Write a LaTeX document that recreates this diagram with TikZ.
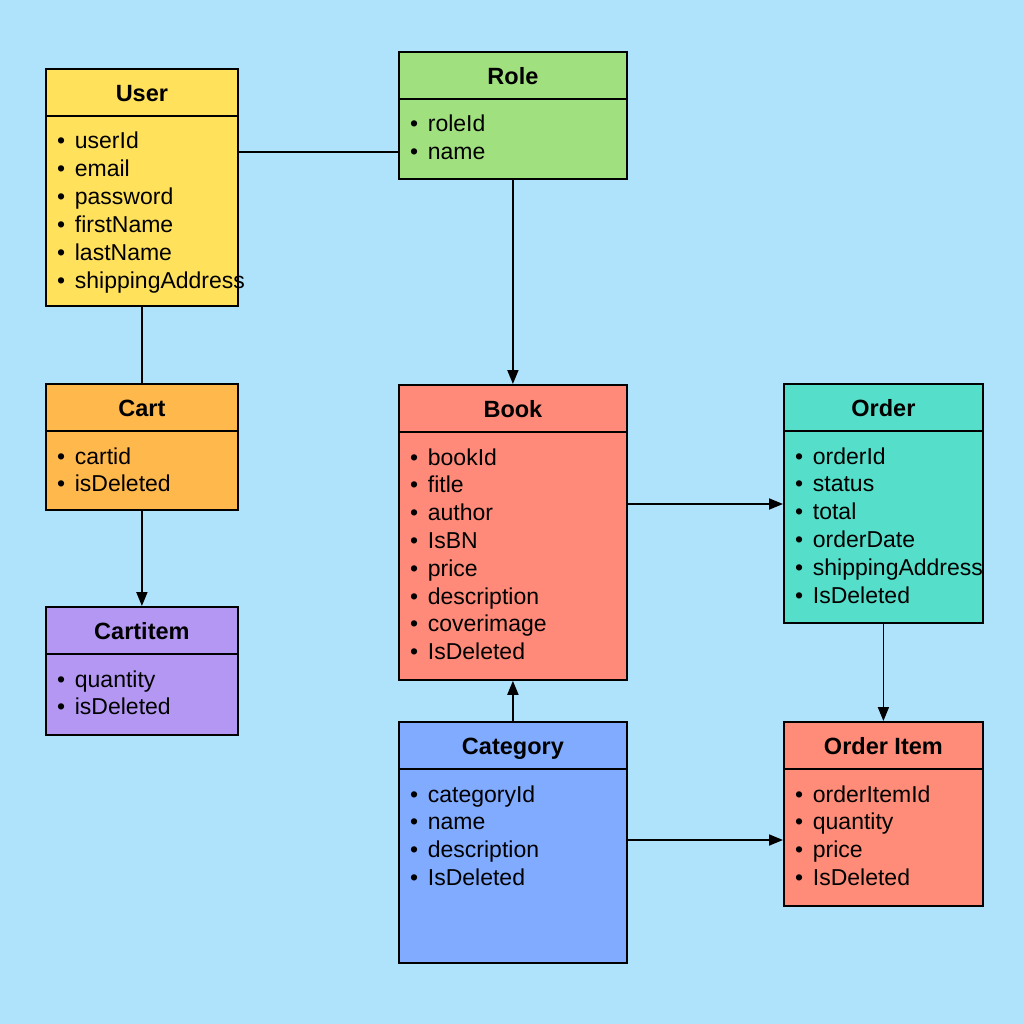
\documentclass[tikz,border=0pt]{standalone}
\usepackage{fontspec}
\setmainfont{Liberation Sans}
\usetikzlibrary{arrows.meta}
\definecolor{bgblue}{HTML}{AEE3FB}
\definecolor{cuser}{HTML}{FFE15C}
\definecolor{crole}{HTML}{A1E07E}
\definecolor{ccart}{HTML}{FFB84C}
\definecolor{citem}{HTML}{B497F2}
\definecolor{cbook}{HTML}{FF8A7A}
\definecolor{corder}{HTML}{55DEC9}
\definecolor{ccat}{HTML}{80ABFF}
\definecolor{coitem}{HTML}{FF8C78}
\tikzset{
  entbox/.style={draw=black, line width=1.8pt, rectangle, inner sep=0pt},
  boxline/.style={draw=black, line width=1.8pt},
  titletext/.style={inner sep=0pt, font=\fontsize{23.5}{28}\selectfont\bfseries},
  attrtext/.style={inner sep=0pt, font=\fontsize{23}{28}\selectfont},
  conn/.style={draw=black, line width=1.8pt},
  arr/.style={conn, -{Triangle[length=14pt,width=11pt]}}
}
\newcommand\entity[7]{%
  \node[entbox, fill=#5, minimum width=#3pt, minimum height=#4pt, anchor=north west] (#1) at (#2) {};
  \draw[boxline] ([yshift=-48pt]#1.north west) -- ([yshift=-48pt]#1.north east);
  \node[titletext, anchor=base] (#1-t) at ([yshift=-33.5pt]#1.north) {#6};
  \foreach \a [count=\i] in {#7} {
    \node[attrtext, anchor=base west] (#1-a\i) at ([xshift=12pt, yshift={-81-(\i-1)*27.8}]#1.north west) {\textbullet\hspace{0.42em}\a};
  }%
}
\begin{document}
\begin{tikzpicture}[x=1pt,y=-1pt]
\fill[bgblue] (0,0) rectangle (1024,1024);
\entity{user}{45,68}{192}{237}{cuser}{User}{userId,email,password,firstName,lastName,shippingAddress}
\entity{role}{398,51}{228}{127}{crole}{Role}{roleId,name}
\entity{cart}{45,383}{192}{126}{ccart}{Cart}{cartid,isDeleted}
\entity{cartitem}{45,606}{192}{128}{citem}{Cartitem}{quantity,isDeleted}
\entity{book}{398,384}{228}{295}{cbook}{Book}{bookId,fitle,author,IsBN,price,description,coverimage,IsDeleted}
\entity{order}{783,383}{199}{239}{corder}{Order}{orderId,status,total,orderDate,shippingAddress,IsDeleted}
\entity{category}{398,721}{228}{241}{ccat}{Category}{categoryId,name,description,IsDeleted}
\entity{orderitem}{783,721}{199}{184}{coitem}{Order Item}{orderItemId,quantity,price,IsDeleted}
\coordinate (y1) at (0,152);
\coordinate (y2) at (0,504);
\coordinate (y3) at (0,840);
\draw[conn] (user.east |- y1) -- (role.west |- y1);
\draw[arr] (role.south) -- (book.north);
\draw[conn] (user.south) -- (cart.north);
\draw[arr] (cart.south) -- (cartitem.north);
\draw[arr] (book.east |- y2) -- (order.west |- y2);
\draw[arr] (order.south) -- (orderitem.north);
\draw[arr] (category.north) -- (book.south);
\draw[arr] (category.east |- y3) -- (orderitem.west |- y3);
\end{tikzpicture}
\end{document}
